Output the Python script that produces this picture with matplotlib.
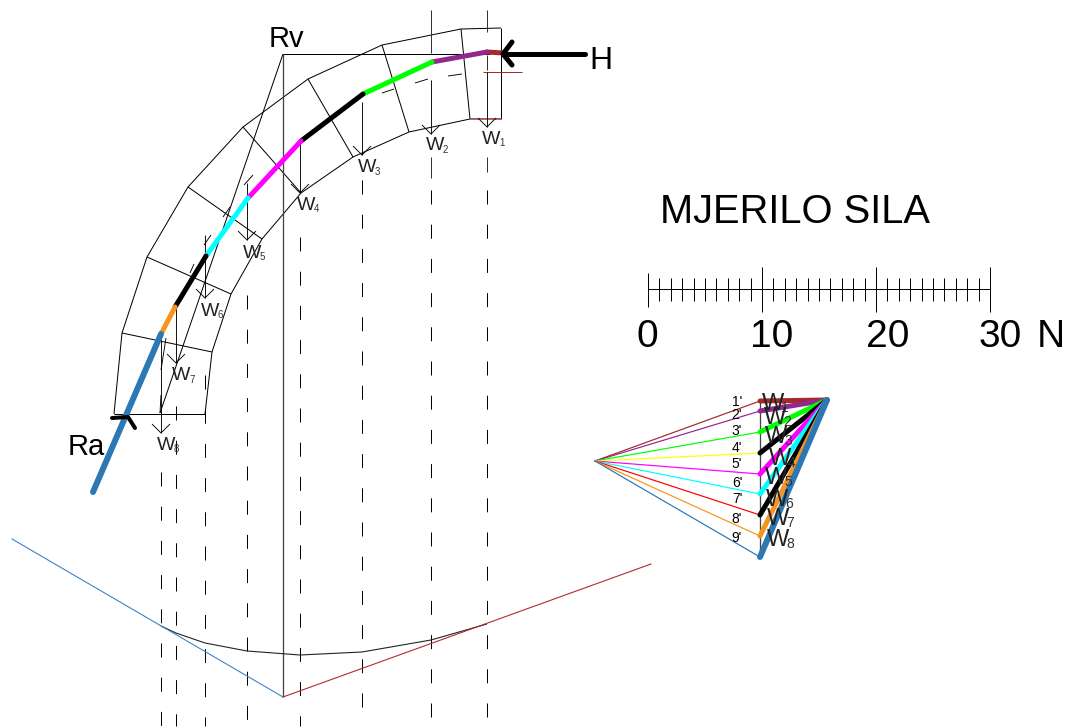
#!/usr/bin/env python3
import matplotlib

matplotlib.use("Agg")
import matplotlib.pyplot as plt

plt.rcParams["font.family"] = ["Liberation Sans", "DejaVu Sans"]
plt.rcParams["lines.scale_dashes"] = False

# everything in pixels (x right, y down)
EXTRADOS_X = [501, 461, 382, 308, 243, 188, 147, 122, 114]
EXTRADOS_Y = [28, 29, 45, 79, 127, 187, 257, 333, 414]
INTRADOS_X = [501, 470, 409, 353, 301, 262, 231, 212, 205]
INTRADOS_Y = [119, 119, 132, 157, 193, 239, 294, 352, 414]

THRUST_X = [503, 487, 432, 363, 301, 248, 206, 175, 161, 93]
THRUST_Y = [53, 52, 62, 94, 141, 198, 256, 307, 334, 492]
SEGMENT_COLORS = ["#a52a2a", "#93288f", "#00ff00", "#000000", "#ff00ff",
                  "#00ffff", "#000000", "#f7941d", "#2b78b5"]

LOAD_X = [487, 431, 362, 300, 247, 205, 176, 161]
LOAD_TOP = [72, 80, 102, 140, 183, 235, 307, 330]
LOAD_TIP = [127, 134, 155, 193, 240, 298, 363, 433]

DASH_X = [161, 176, 205, 247, 300, 362, 431, 487]
DASH_START = [472, 406, 375, 295, 237, 180, 190, 190]

POLE = (595, 461)
APEX = (827, 400)
LOAD_LINE_X = 760
RAY_Y = [401, 411, 432, 453, 474, 494, 515, 536, 557]
RAY_COLORS = ["#a52a2a", "#93288f", "#00ff00", "#ffff00", "#ff00ff",
              "#00ffff", "#ff0000", "#f7941d", "#2b78b5"]
THICK_COLORS = ["#a52a2a", "#93288f", "#00ff00", "#000000", "#ff00ff",
                "#00ffff", "#000000", "#f7941d", "#2b78b5"]
RAY_LABELS = ["1'", "2'", "3'", "4'", "5'", "6'", "7'", "8'", "9'"]
RAY_LABEL_Y = [402, 415, 431, 448, 464, 483, 499, 519, 538]

FUNICULAR_X = [161, 176, 205, 247, 300, 362, 431, 487]
FUNICULAR_Y = [626, 633, 643, 651, 655, 652, 640, 624]

ARCH_W_X = [482, 426, 358, 297, 243, 201, 172, 157]
ARCH_W_Y = [139, 146, 168, 205, 253, 311, 376, 445]
POLY_W_X = [762, 764, 765, 769, 765, 766, 767, 767]
POLY_W_Y = [404, 418, 437, 459, 478, 500, 519, 540]
W_SUBS = ["1", "2", "3", "4", "5", "6", "7", "8"]

SCALE_VALUES = list(range(31))
SCALE_LABELS = ["0", "10", "20", "30"]
SCALE_LABEL_X = [636, 750, 866, 979]


def px(n):
    return n * 0.72


def thin(ax, xs, ys, color="black", lw=1.0, **kw):
    ax.plot(xs, ys, color=color, lw=px(lw), solid_capstyle="butt", **kw)


def thick(ax, xs, ys, color="black", lw=5.0):
    ax.plot(xs, ys, color=color, lw=px(lw), solid_capstyle="round", zorder=4)


def draw_arch(ax):
    thin(ax, EXTRADOS_X, EXTRADOS_Y)
    thin(ax, INTRADOS_X, INTRADOS_Y)
    thin(ax, [EXTRADOS_X[0], INTRADOS_X[0]], [EXTRADOS_Y[0], INTRADOS_Y[0]])
    thin(ax, [EXTRADOS_X[-1], INTRADOS_X[-1]], [EXTRADOS_Y[-1], INTRADOS_Y[-1]])
    for i in range(1, len(EXTRADOS_X) - 1):
        thin(ax, [EXTRADOS_X[i], INTRADOS_X[i]], [EXTRADOS_Y[i], INTRADOS_Y[i]])

    # resultant lines
    thin(ax, [283, 283], [54, 697], color="#444444", lw=1.3)
    thin(ax, [283, 490], [54, 54])
    thin(ax, [283, 160], [54, 413])

    # bits of the middle dashed curve
    for x0, y0, x1, y1 in [(382, 93, 394, 89), (415, 83, 428, 79), (448, 76, 462, 74),
                           (244, 185, 253, 175), (223, 217, 230, 207),
                           (204, 245, 211, 235), (190, 273, 194, 264),
                           (166, 338, 161, 370), (161, 395, 160, 413)]:
        thin(ax, [x0, x1], [y0, y1], lw=0.9)

    # small brown marks at the crown
    thin(ax, [483, 522], [72, 72], color="#a52a2a")
    thin(ax, [470, 501], [118, 118], color="#c9474a")


def draw_loads(ax):
    for x, top, tip in zip(LOAD_X, LOAD_TOP, LOAD_TIP):
        thin(ax, [x, x], [top, tip], lw=0.9)
        thin(ax, [x - 9, x, x + 9], [tip - 9, tip, tip - 9], lw=0.9)
    for x, start in zip(DASH_X, DASH_START):
        ax.plot([x, x], [start, 726], color="black", lw=px(1.0),
                dashes=(px(14), px(20.2)), dash_capstyle="butt")
    for x, y0, y1 in [(431, 10, 53), (431, 157, 178), (487, 10, 32), (487, 55, 70),
                      (487, 157, 172)]:
        thin(ax, [x, x], [y0, y1], color="#333333")


def draw_thrust(ax):
    for i, color in enumerate(SEGMENT_COLORS):
        thick(ax, THRUST_X[i:i + 2], THRUST_Y[i:i + 2], color=color, lw=6 if i == 8 else 5)
    thick(ax, [585, 503], [54, 54])
    thick(ax, [512, 503, 512], [42, 54, 65])
    thick(ax, [112, 128, 135], [418, 417, 428], lw=4)


def draw_polygon(ax):
    thin(ax, [LOAD_LINE_X, LOAD_LINE_X], [RAY_Y[0], RAY_Y[-1]], color="#444444", lw=1.3)
    for y, color, thick_color, label, label_y in zip(RAY_Y, RAY_COLORS, THICK_COLORS,
                                                     RAY_LABELS, RAY_LABEL_Y):
        ax.plot([POLE[0], LOAD_LINE_X], [POLE[1], y], color=color, lw=px(1.2), zorder=3)
        thick(ax, [LOAD_LINE_X, APEX[0]], [y, APEX[1]], color=thick_color,
              lw=6 if thick_color == "#2b78b5" else 5)
        ax.text(737, label_y, label, fontsize=10, ha="center", va="center", zorder=6)


def w_label(ax, x, y, sub, size, sub_size, sub_dx):
    ax.text(x, y, "W", fontsize=size, ha="left", va="center", color="#222222", zorder=6)
    ax.text(x + sub_dx, y + 4, sub, fontsize=sub_size, ha="left", va="center",
            color="#333333", zorder=6)


def draw_scale(ax):
    x0, x1 = 648, 990
    unit = (x1 - x0) / SCALE_VALUES[-1]
    thin(ax, [x0, x1], [289, 289])
    for value in SCALE_VALUES:
        x = x0 + value * unit
        if value == 0:
            y0, y1 = 273, 307
        elif value % 10 == 0:
            y0, y1 = 267, 312
        else:
            y0, y1 = 278, 301
        thin(ax, [x, x], [y0, y1])
    for label, x in zip(SCALE_LABELS, SCALE_LABEL_X):
        ax.text(x, 347, label, fontsize=28, ha="left", va="baseline")
    ax.text(1037, 347, "N", fontsize=28, ha="left", va="baseline")
    ax.text(660, 223, "MJERILO SILA", fontsize=28.7, ha="left", va="baseline")


def main():
    fig = plt.figure(figsize=(10.72, 7.28), dpi=100)
    ax = fig.add_axes([0, 0, 1, 1])
    ax.set_xlim(0, 1072)
    ax.set_ylim(728, 0)
    ax.axis("off")

    draw_arch(ax)
    draw_loads(ax)
    draw_thrust(ax)
    draw_polygon(ax)
    draw_scale(ax)

    for x, y, sub in zip(ARCH_W_X, ARCH_W_Y, W_SUBS):
        w_label(ax, x, y, sub, 14, 7, 17)
    for x, y, sub in zip(POLY_W_X, POLY_W_Y, W_SUBS):
        w_label(ax, x, y, sub, 17, 10, 19)

    ax.text(269, 47, "Rv", fontsize=21, ha="left", va="baseline")
    ax.text(589, 69, "H", fontsize=23, ha="left", va="baseline")
    ax.text(68, 455, "Ra", fontsize=21, ha="left", va="baseline")

    # funicular polygon and its closing lines
    thin(ax, FUNICULAR_X, FUNICULAR_Y, color="#222222", lw=1.1)
    ax.plot([12, 283], [539, 697], color="#3a85c8", lw=px(1.1))
    ax.plot([283, 651], [697, 564], color="#b22a2e", lw=px(1.1))

    fig.savefig("out.png", dpi=100, facecolor="white")
    plt.close(fig)


if __name__ == "__main__":
    main()
